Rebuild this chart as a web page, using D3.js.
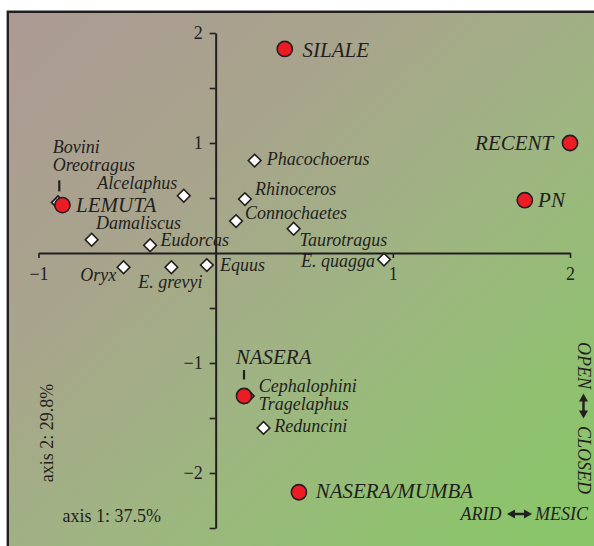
<!DOCTYPE html>
<html>
<head>
<meta charset="utf-8">
<script src="https://cdn.jsdelivr.net/npm/d3@7"></script>
<style>
  html, body { margin: 0; padding: 0; background: #fff; }
  svg { display: block; }
  text { font-family: "Liberation Serif", "Times New Roman", serif; fill: #231f20; }
</style>
</head>
<body>
<svg id="chart" width="594" height="546"></svg>
<script>
// Correspondence analysis scores: taxa (diamonds) and fossil sites (circles)
const taxaNames = ["Phacochoerus", "Rhinoceros", "Connochaetes", "Taurotragus", "E. quagga",
  "Alcelaphus", "Bovini", "Oreotragus", "Damaliscus", "Eudorcas", "Oryx", "E. grevyi", "Equus",
  "Cephalophini", "Tragelaphus", "Reduncini"];
const taxaAxis1 = [0.22, 0.165, 0.115, 0.44, 0.95, -0.18, -0.89, -0.89, -0.70, -0.37, -0.52, -0.25, -0.05, 0.18, 0.18, 0.27];
const taxaAxis2 = [0.84, 0.49, 0.29, 0.22, -0.06, 0.52, 0.46, 0.46, 0.12, 0.07, -0.13, -0.13, -0.11, -1.30, -1.30, -1.59];

const siteNames = ["SILALE", "RECENT", "PN", "LEMUTA", "NASERA", "NASERA/MUMBA"];
const siteAxis1 = [0.39, 2.0, 1.745, -0.865, 0.16, 0.47];
const siteAxis2 = [1.855, 1.0, 0.48, 0.435, -1.30, -2.175];

const axis1Ticks = [-1, 1, 2];
const axis2Ticks = [2, 1.5, 1, 0.5, -0.5, -1, -1.5, -2, -2.5];
const axis2Labelled = [2, 1, -1, -2];
const axis1Title = "axis 1: 37.5%";
const axis2Title = "axis 2: 29.8%";

// Label placement relative to each mark: [dx, dy, anchor]
const taxonLabelPos = {
  "Phacochoerus": [12, 4.5, "start"],
  "Rhinoceros": [10, -4, "start"],
  "Connochaetes": [9, -1.7, "start"],
  "Taurotragus": [6, 17, "start"],
  "E. quagga": [-9, 7.4, "end"],
  "Alcelaphus": [-6.6, -6.4, "end"],
  "Bovini": [-5.3, -49.3, "start"],
  "Oreotragus": [-5.3, -31.3, "start"],
  "Damaliscus": [4.3, -10.7, "start"],
  "Eudorcas": [10.5, 0.8, "start"],
  "Oryx": [-7.3, 13.3, "end"],
  "E. grevyi": [-1, 21, "middle"],
  "Equus": [13.3, 5.7, "start"],
  "Cephalophini": [11.3, -4, "start"],
  "Tragelaphus": [11.3, 14.3, "start"],
  "Reduncini": [10.7, 4.4, "start"]
};
const siteLabelPos = {
  "SILALE": [17.7, 8.3, "start"],
  "RECENT": [-16.7, 7.3, "end"],
  "PN": [13.3, 6.7, "start"],
  "LEMUTA": [13.7, 6.7, "start"],
  "NASERA": [-8.3, -32.4, "start"],
  "NASERA/MUMBA": [16.7, 6, "start"]
};

const ink = "#231f20";
const svg = d3.select("#chart");

// Background panel with diagonal arid-to-mesic wash
const defs = svg.append("defs");
const grad = defs.append("linearGradient").attr("id", "wash")
  .attr("x1", 0).attr("y1", 0).attr("x2", 1).attr("y2", 1);
[[0, "#ac9a94"], [0.3, "#a8a48c"], [0.55, "#9fb482"], [0.8, "#90c170"], [1, "#86c767"]]
  .forEach(([o, c]) => grad.append("stop").attr("offset", o).attr("stop-color", c));

svg.append("rect").attr("x", 8).attr("y", 12).attr("width", 600).attr("height", 550)
  .attr("fill", "url(#wash)");
svg.append("path").attr("d", "M7.8,560 V11.8 H600")
  .attr("fill", "none").attr("stroke", ink).attr("stroke-width", 2.4);

const x = d3.scaleLinear().domain([-1, 2]).range([38.5, 570]);
const y = d3.scaleLinear().domain([-2.5, 2]).range([528, 33]);
const fmt = d3.format("d");

// Axis 1 (horizontal) through the origin
const gx = svg.append("g").attr("transform", `translate(0,${y(0)})`)
  .call(d3.axisBottom(x).tickValues(axis1Ticks).tickSize(5).tickSizeOuter(0).tickPadding(9).tickFormat(fmt));
// Axis 2 (vertical) through the origin
const gy = svg.append("g").attr("transform", `translate(${x(0)},0)`)
  .call(d3.axisLeft(y).tickValues(axis2Ticks).tickSize(6).tickSizeOuter(0).tickPadding(7)
    .tickFormat(d => axis2Labelled.includes(d) ? fmt(d) : ""));
[gx, gy].forEach(g => {
  g.select(".domain").attr("stroke", ink).attr("stroke-width", 2);
  g.selectAll(".tick line").attr("stroke", ink).attr("stroke-width", 1.6);
  g.selectAll(".tick text").attr("fill", ink)
    .style("font-family", "'Liberation Serif', serif").style("font-size", "18px");
});

// Axis titles
svg.append("text").attr("x", 62.5).attr("y", 521.5).style("font-size", "18px").text(axis1Title);
svg.append("text").attr("transform", "translate(52.5,433) rotate(-90)")
  .attr("text-anchor", "middle").style("font-size", "18px").text(axis2Title);

// Leader ticks for stacked labels
svg.append("line").attr("x1", x(taxaAxis1[6]) + 1.3).attr("x2", x(taxaAxis1[6]) + 1.3)
  .attr("y1", y(taxaAxis2[6]) - 22).attr("y2", y(taxaAxis2[6]) - 11)
  .attr("stroke", ink).attr("stroke-width", 2.2);
svg.append("line").attr("x1", x(siteAxis1[4])).attr("x2", x(siteAxis1[4]))
  .attr("y1", y(siteAxis2[4]) - 26).attr("y2", y(siteAxis2[4]) - 16.5)
  .attr("stroke", ink).attr("stroke-width", 2.2);

// Taxa
const taxa = taxaNames.map((n, i) => ({ name: n, a1: taxaAxis1[i], a2: taxaAxis2[i] }));
const square = d3.symbol().type(d3.symbolSquare).size(80);
svg.append("g").selectAll("path").data(taxa).join("path")
  .attr("d", square)
  .attr("transform", d => `translate(${x(d.a1)},${y(d.a2)}) rotate(45)`)
  .attr("fill", "#fff").attr("stroke", ink).attr("stroke-width", 1.6);
svg.append("g").selectAll("text").data(taxa).join("text")
  .attr("x", d => x(d.a1) + taxonLabelPos[d.name][0])
  .attr("y", d => y(d.a2) + taxonLabelPos[d.name][1])
  .attr("text-anchor", d => taxonLabelPos[d.name][2])
  .style("font-size", "18px").style("font-style", "italic")
  .text(d => d.name);

// Sites
const sites = siteNames.map((n, i) => ({ name: n, a1: siteAxis1[i], a2: siteAxis2[i] }));
svg.append("g").selectAll("circle").data(sites).join("circle")
  .attr("cx", d => x(d.a1)).attr("cy", d => y(d.a2)).attr("r", 7.6)
  .attr("fill", "#ec1c24").attr("stroke", ink).attr("stroke-width", 1.6);
svg.append("g").selectAll("text").data(sites).join("text")
  .attr("x", d => x(d.a1) + siteLabelPos[d.name][0])
  .attr("y", d => y(d.a2) + siteLabelPos[d.name][1])
  .attr("text-anchor", d => siteLabelPos[d.name][2])
  .style("font-size", "21px").style("font-style", "italic")
  .text(d => d.name);

// Double-headed arrow along the local x direction, centred at origin
function doubleArrow(len) {
  const h = len / 2, head = 8, hw = 4.5, sw = 1.2;
  return `M${-h},0 L${-h + head},${-hw} L${-h + head},${-sw} L${h - head},${-sw} L${h - head},${-hw} L${h},0 ` +
         `L${h - head},${hw} L${h - head},${sw} L${-h + head},${sw} L${-h + head},${hw} Z`;
}

// Environmental gradient annotations
svg.append("text").attr("x", 501.5).attr("y", 519.5).attr("text-anchor", "end")
  .style("font-size", "18px").style("font-style", "italic").text("ARID");
svg.append("path").attr("d", doubleArrow(25)).attr("transform", "translate(519.5,514)").attr("fill", ink);
svg.append("text").attr("x", 535).attr("y", 519.5)
  .style("font-size", "18px").style("font-style", "italic").text("MESIC");

svg.append("text").attr("transform", "translate(577.5,342) rotate(90)")
  .style("font-size", "18px").style("font-style", "italic").text("OPEN");
svg.append("path").attr("d", doubleArrow(25)).attr("transform", "translate(583.5,406) rotate(90)").attr("fill", ink);
svg.append("text").attr("transform", "translate(577.5,426) rotate(90)")
  .style("font-size", "18px").style("font-style", "italic").text("CLOSED");
</script>
</body>
</html>
